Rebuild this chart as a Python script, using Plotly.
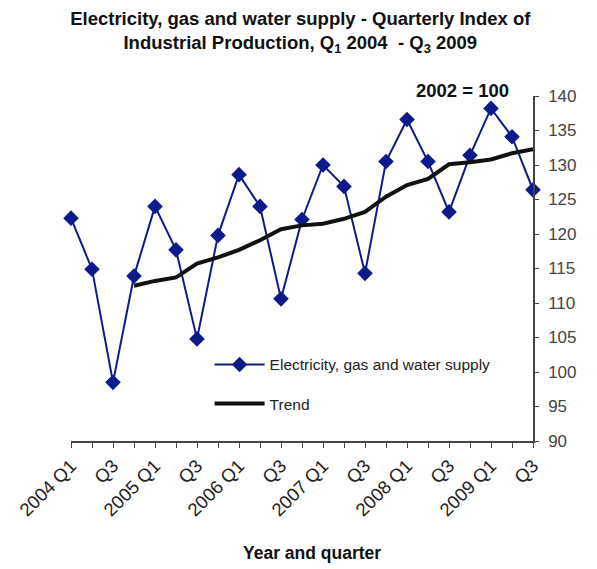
import plotly.graph_objects as go

quarters = [
    "2004 Q1", "2004 Q2", "2004 Q3", "2004 Q4",
    "2005 Q1", "2005 Q2", "2005 Q3", "2005 Q4",
    "2006 Q1", "2006 Q2", "2006 Q3", "2006 Q4",
    "2007 Q1", "2007 Q2", "2007 Q3", "2007 Q4",
    "2008 Q1", "2008 Q2", "2008 Q3", "2008 Q4",
    "2009 Q1", "2009 Q2", "2009 Q3",
]
tick_text = [
    "2004 Q1", "", "Q3", "",
    "2005 Q1", "", "Q3", "",
    "2006 Q1", "", "Q3", "",
    "2007 Q1", "", "Q3", "",
    "2008 Q1", "", "Q3", "",
    "2009 Q1", "", "Q3",
]
supply = [
    122.3, 114.9, 98.5, 113.9,
    124.0, 117.7, 104.8, 119.8,
    128.6, 124.0, 110.6, 122.1,
    130.0, 126.9, 114.3, 130.5,
    136.6, 130.5, 123.2, 131.4,
    138.2, 134.1, 126.4,
]
trend = [
    None, None, None, 112.5,
    113.2, 113.7, 115.7, 116.6,
    117.7, 119.1, 120.7, 121.25,
    121.5, 122.2, 123.2, 125.4,
    127.1, 128.0, 130.1, 130.4,
    130.8, 131.7, 132.3,
]
y_ticks = [90, 95, 100, 105, 110, 115, 120, 125, 130, 135, 140]

fig = go.Figure()
fig.add_trace(go.Scatter(
    x=quarters, y=supply, mode="lines+markers",
    name="Electricity, gas and water supply", legendgroup="a",
    line=dict(color="#0f1a8a", width=2),
    marker=dict(symbol="diamond", size=12, color="#0f1a8a"),
    cliponaxis=False,
))
fig.add_trace(go.Scatter(
    x=quarters, y=trend, mode="lines", name="Trend", legendgroup="b",
    line=dict(color="#111111", width=4),
    cliponaxis=False,
))

fig.update_layout(
    width=597, height=569,
    margin=dict(l=71, r=64, t=96, b=128, autoexpand=False),
    paper_bgcolor="white", plot_bgcolor="white",
    font=dict(family="Arial, Liberation Sans, sans-serif", color="#222222"),
    title=dict(
        text="<b>Electricity, gas and water supply - Quarterly Index of<br>Industrial Production, Q<sub>1</sub> 2004  - Q<sub>3</sub> 2009</b>",
        x=0.503, xanchor="center", y=1 - 25 / 569, yanchor="middle",
        font=dict(size=18.5, color="#111111"),
    ),
    showlegend=True,
    legend=dict(
        x=0.3, y=0.27, xanchor="left", yanchor="top",
        bgcolor="rgba(0,0,0,0)", font=dict(size=15.5, color="#222222"),
        tracegroupgap=16, itemwidth=50,
    ),
    xaxis=dict(
        type="category", categoryorder="array", categoryarray=quarters,
        range=[0, 22], automargin=False,
        tickmode="array", tickvals=quarters, ticktext=tick_text,
        tickangle=-45, tickfont=dict(size=18.5, color="#222222"),
        ticks="outside", ticklen=5, tickcolor="#444444",
        showline=True, linecolor="#444444", linewidth=1.5,
        showgrid=False, zeroline=False,
    ),
    yaxis=dict(
        side="right", range=[90, 140], automargin=False,
        tickmode="array", tickvals=y_ticks,
        tickfont=dict(size=17, color="#444444"),
        ticks="outside", ticklen=4, tickcolor="#444444",
        showline=True, linecolor="#444444", linewidth=1.5,
        showgrid=False, zeroline=False,
        ticklabelstandoff=6,
    ),
    annotations=[
        dict(
            text="<b>2002 = 100</b>", xref="paper", yref="paper",
            x=0.848, y=(441 - 91) / 345, xanchor="center", yanchor="middle",
            showarrow=False, font=dict(size=18.5, color="#111111"),
        ),
        dict(
            text="<b>Year and quarter</b>", xref="paper", yref="paper",
            x=(312 - 71) / 462, y=(441 - 553) / 345, xanchor="center", yanchor="middle",
            showarrow=False, font=dict(size=17.5, color="#111111"),
        ),
    ],
)

fig.write_html("out.html")
